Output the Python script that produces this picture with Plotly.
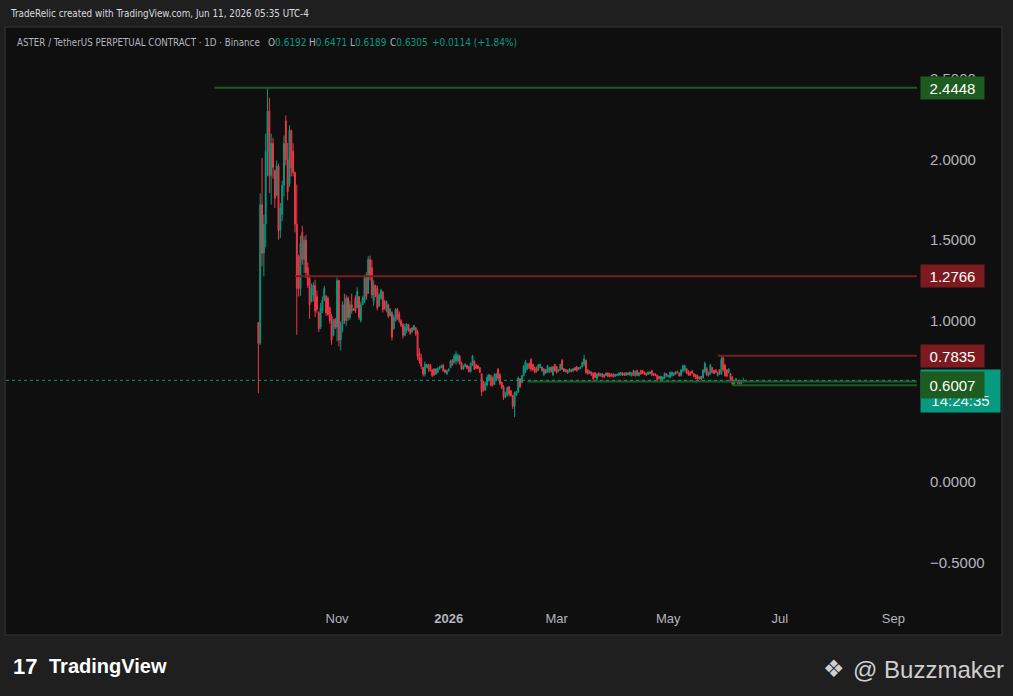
import pandas as pd
import plotly.graph_objects as go

# ---------------- data ----------------
start_date = "2025-09-19"
opens = [0.99,0.86,1.72,1.42,1.60,2.05,2.30,1.90,2.10,1.93,1.78,1.96,1.56,1.66,1.84,2.24,2.00,1.85,2.18,2.05,
 1.92,1.60,1.40,1.20,1.55,1.38,1.50,1.33,1.26,1.12,1.16,1.22,1.15,1.05,0.96,1.06,1.13,1.15,1.14,1.08,
 1.03,0.91,1.01,0.96,1.25,0.88,0.98,1.10,1.00,1.14,1.02,1.10,1.066,1.14,1.08,1.15,1.00,1.10,1.12,1.27,
 1.17,1.38,1.33,1.12,1.22,1.20,1.09,1.14,1.18,1.12,1.06,1.10,1.03,1.05,0.95,1.00,1.07,1.04,1.00,0.975,
 0.91,0.94,0.975,0.95,0.93,0.945,0.955,0.93,0.80,0.77,0.71,0.67,0.71,0.728,0.725,0.695,0.70,0.67,0.68,0.70,
 0.71,0.725,0.695,0.67,0.69,0.708,0.755,0.74,0.75,0.75,0.78,0.74,0.70,0.715,0.725,0.715,0.685,0.725,0.75,0.725,
 0.72,0.71,0.67,0.62,0.57,0.60,0.63,0.66,0.645,0.605,0.63,0.70,0.665,0.62,0.59,0.525,0.54,0.59,0.565,0.535,
 0.47,0.54,0.56,0.64,0.615,0.66,0.69,0.70,0.735,0.76,0.73,0.71,0.70,0.692,0.71,0.712,0.665,0.698,0.68,0.68,
 0.712,0.665,0.728,0.715,0.686,0.695,0.755,0.703,0.683,0.694,0.683,0.698,0.687,0.71,0.715,0.698,0.704,0.714,0.73,0.755,
 0.695,0.673,0.683,0.675,0.678,0.64,0.677,0.657,0.672,0.665,0.66,0.676,0.672,0.671,0.665,0.655,0.66,0.662,0.665,0.677,
 0.675,0.662,0.677,0.664,0.66,0.692,0.658,0.692,0.66,0.692,0.69,0.682,0.675,0.667,0.671,0.69,0.672,0.67,0.662,0.655,
 0.635,0.637,0.645,0.672,0.652,0.648,0.66,0.662,0.682,0.677,0.676,0.66,0.69,0.695,0.703,0.688,0.68,0.689,0.672,0.665,
 0.66,0.639,0.655,0.645,0.685,0.705,0.66,0.672,0.71,0.692,0.695,0.66,0.695,0.67,0.77,0.725,0.695,0.677,0.672,0.65,
 0.605,0.625,0.63,0.628,0.612,0.6192]
highs = [0.99,1.79,2.01,1.658,2.161,2.4448,2.383,2.161,2.135,1.938,1.994,1.975,1.731,1.870,2.149,2.273,2.103,2.211,2.186,2.10,
 1.925,1.845,1.41,1.528,1.590,1.524,1.534,1.362,1.286,1.230,1.238,1.255,1.188,1.058,1.11,1.151,1.217,1.161,1.151,1.089,
 1.043,1.012,1.017,1.269,1.255,0.996,1.12,1.168,1.161,1.151,1.124,1.168,1.079,1.157,1.207,1.151,1.118,1.155,1.286,1.30,
 1.40,1.404,1.379,1.25,1.224,1.217,1.172,1.199,1.182,1.13,1.126,1.106,1.079,1.058,1.037,1.079,1.079,1.058,1.01,0.986,
 0.981,0.986,0.981,0.954,0.961,0.975,0.961,0.944,0.83,0.795,0.716,0.747,0.733,0.733,0.733,0.70,0.706,0.706,0.712,0.72,
 0.727,0.733,0.70,0.696,0.706,0.758,0.762,0.795,0.81,0.799,0.789,0.747,0.727,0.737,0.727,0.72,0.741,0.789,0.754,0.733,
 0.727,0.712,0.675,0.629,0.623,0.665,0.671,0.665,0.654,0.675,0.675,0.706,0.675,0.623,0.602,0.561,0.592,0.596,0.571,0.54,
 0.561,0.565,0.654,0.644,0.665,0.727,0.758,0.737,0.741,0.768,0.733,0.716,0.716,0.733,0.733,0.716,0.706,0.70,0.727,0.712,
 0.716,0.72,0.733,0.72,0.70,0.733,0.764,0.706,0.70,0.696,0.706,0.70,0.706,0.712,0.72,0.712,0.716,0.747,0.789,0.758,
 0.70,0.691,0.685,0.679,0.683,0.675,0.679,0.675,0.675,0.669,0.679,0.679,0.677,0.675,0.675,0.671,0.671,0.679,0.683,0.679,
 0.679,0.681,0.679,0.685,0.679,0.696,0.691,0.696,0.681,0.696,0.696,0.685,0.679,0.685,0.685,0.696,0.675,0.675,0.665,0.658,
 0.658,0.654,0.679,0.675,0.665,0.685,0.685,0.679,0.685,0.689,0.679,0.70,0.727,0.727,0.706,0.691,0.685,0.691,0.675,0.669,
 0.665,0.654,0.658,0.70,0.747,0.712,0.685,0.733,0.712,0.696,0.70,0.685,0.70,0.7835,0.778,0.733,0.70,0.706,0.675,0.658,
 0.629,0.644,0.633,0.633,0.633,0.6471]
lows = [0.551,0.85,1.337,1.275,1.455,1.896,1.793,1.72,1.882,1.70,1.772,1.503,1.513,1.617,1.772,1.963,1.747,1.830,1.896,1.896,
 1.549,0.913,1.151,1.155,1.348,1.296,1.265,1.203,1.012,1.114,1.118,1.023,1.048,0.930,0.948,1.048,1.12,1.031,1.031,0.981,
 0.851,0.903,0.948,0.872,0.841,0.816,0.928,0.981,0.969,1.00,1.006,1.043,1.064,1.048,1.079,1.006,0.99,1.099,1.11,1.13,
 1.168,1.25,1.141,1.093,1.147,1.064,1.089,1.13,1.052,1.068,1.052,1.017,1.027,0.878,0.944,0.996,1.006,0.986,0.961,0.89,
 0.903,0.923,0.932,0.913,0.928,0.94,0.907,0.758,0.733,0.70,0.654,0.654,0.706,0.685,0.685,0.65,0.658,0.665,0.675,0.696,
 0.706,0.685,0.675,0.665,0.685,0.706,0.72,0.737,0.727,0.741,0.727,0.696,0.696,0.712,0.70,0.679,0.679,0.72,0.696,0.70,
 0.70,0.675,0.534,0.561,0.565,0.596,0.623,0.592,0.592,0.602,0.623,0.634,0.602,0.576,0.509,0.52,0.53,0.53,0.53,0.453,
 0.402,0.534,0.551,0.582,0.613,0.654,0.675,0.696,0.70,0.685,0.691,0.675,0.679,0.691,0.706,0.685,0.658,0.671,0.679,0.675,
 0.679,0.658,0.685,0.671,0.685,0.691,0.696,0.681,0.681,0.671,0.681,0.681,0.685,0.691,0.685,0.696,0.702,0.712,0.716,0.671,
 0.665,0.671,0.658,0.629,0.644,0.629,0.654,0.654,0.648,0.648,0.658,0.65,0.65,0.654,0.648,0.654,0.658,0.658,0.658,0.658,
 0.658,0.658,0.663,0.658,0.654,0.658,0.654,0.658,0.654,0.665,0.671,0.665,0.658,0.665,0.669,0.658,0.658,0.658,0.629,0.637,
 0.629,0.633,0.637,0.654,0.65,0.644,0.654,0.658,0.665,0.675,0.654,0.654,0.679,0.685,0.671,0.658,0.658,0.671,0.65,0.637,
 0.633,0.637,0.633,0.644,0.675,0.658,0.654,0.665,0.675,0.669,0.675,0.654,0.665,0.665,0.685,0.654,0.65,0.675,0.623,0.6007,
 0.601,0.623,0.609,0.602,0.609,0.6189]
closes = [0.86,1.72,1.42,1.60,2.05,2.30,1.90,2.10,1.95,1.76,1.96,1.56,1.70,1.84,2.10,2.00,1.80,2.18,1.95,1.92,
 1.60,1.20,1.20,1.48,1.38,1.50,1.30,1.22,1.10,1.20,1.22,1.06,1.07,0.95,1.08,1.13,1.20,1.05,1.04,1.00,
 0.88,1.00,0.96,1.25,0.88,0.98,1.10,1.00,1.14,1.02,1.10,1.06,1.075,1.06,1.18,1.02,1.10,1.14,1.27,1.15,
 1.38,1.27,1.16,1.22,1.16,1.08,1.16,1.19,1.07,1.08,1.12,1.03,1.07,0.90,1.02,1.07,1.02,1.00,0.97,0.91,
 0.96,0.98,0.94,0.92,0.955,0.97,0.92,0.78,0.75,0.72,0.67,0.73,0.728,0.70,0.69,0.66,0.665,0.70,0.705,0.715,
 0.722,0.69,0.68,0.69,0.70,0.75,0.725,0.78,0.79,0.785,0.735,0.70,0.72,0.73,0.705,0.685,0.735,0.78,0.70,0.705,
 0.705,0.68,0.56,0.57,0.61,0.65,0.665,0.60,0.60,0.665,0.67,0.645,0.61,0.585,0.525,0.55,0.585,0.545,0.535,0.47,
 0.55,0.56,0.645,0.59,0.66,0.72,0.745,0.73,0.71,0.70,0.695,0.68,0.685,0.728,0.73,0.69,0.70,0.675,0.72,0.708,
 0.685,0.715,0.69,0.68,0.698,0.73,0.70,0.685,0.697,0.675,0.702,0.684,0.703,0.694,0.69,0.71,0.714,0.74,0.765,0.68,
 0.67,0.688,0.662,0.64,0.65,0.67,0.658,0.672,0.652,0.651,0.676,0.655,0.654,0.657,0.652,0.668,0.669,0.676,0.68,0.662,
 0.661,0.678,0.665,0.682,0.676,0.662,0.686,0.662,0.678,0.67,0.675,0.668,0.662,0.682,0.683,0.665,0.661,0.66,0.635,0.64,
 0.655,0.651,0.675,0.657,0.662,0.68,0.682,0.676,0.668,0.687,0.658,0.695,0.72,0.72,0.676,0.664,0.662,0.675,0.655,0.642,
 0.638,0.651,0.637,0.695,0.735,0.665,0.68,0.725,0.68,0.672,0.679,0.68,0.67,0.76,0.695,0.66,0.656,0.70,0.628,0.61,
 0.625,0.64,0.613,0.61,0.6192,0.6305]

x_tick_vals = ["2025-11-01", "2026-01-01", "2026-03-01", "2026-05-01", "2026-07-01", "2026-09-01"]
x_tick_text = ["Nov", "<b>2026</b>", "Mar", "May", "Jul", "Sep"]
y_tick_vals = [-0.5, 0.0, 0.5, 1.0, 1.5, 2.0, 2.5]
y_tick_text = ["\u22120.5000", "0.0000", "0.5000", "1.0000", "1.5000", "2.0000", "2.5000"]

# horizontal levels: (price, start date, colour)
level_prices = [2.4448, 1.2766, 0.7835, 0.6234, 0.6007]
level_starts = ["2025-08-26", "2025-10-09", "2026-05-28", "2026-02-13", "2026-06-05"]
level_colors = ["#1f5a22", "#7a1c22", "#7a1c22", "#1f5a22", "#1f5a22"]
label_prices = [2.4448, 1.2766, 0.7835]
label_colors = ["#1e5b20", "#7d1a20", "#7d1a20"]
last_price = 0.6305
last_label_price = 0.6007
countdown = "14:24:35"

symbol_text = "ASTER / TetherUS PERPETUAL CONTRACT \u00b7 1D \u00b7 Binance"
ohlc_keys = ["O", "H", "L", "C"]
ohlc_vals = ["0.6192", "0.6471", "0.6189", "0.6305"]
change_text = "+0.0114 (+1.84%)"

dates = pd.date_range(start_date, periods=len(closes), freq="D")

# ---------------- layout helpers ----------------
W, H = 1013, 696
L, R, T, B = 6, 917, 28, 605
x_range = ["2025-05-04 02:00", "2026-09-13 22:00"]
y_range = [-0.763, 2.816]

def fx(px):
    return (px - L) / (R - L)

def fy(py):
    return (B - py) / (B - T)

GREEN = "#089981"
RED = "#f23645"
AX = "#b2b5be"
NARROW = "DejaVu Sans Condensed, DejaVu Sans, sans-serif"
SANS = "Liberation Sans, Arial, sans-serif"

fig = go.Figure()
fig.add_trace(go.Candlestick(
    x=dates, open=opens, high=highs, low=lows, close=closes,
    increasing=dict(line=dict(color=GREEN, width=1), fillcolor=GREEN),
    decreasing=dict(line=dict(color=RED, width=1), fillcolor=RED),
    whiskerwidth=0, hoverinfo="skip", showlegend=False,
))

shapes = []
# chart frame
shapes.append(dict(type="rect", xref="paper", yref="paper", layer="below",
                   x0=fx(5), x1=fx(1002), y0=fy(635), y1=fy(27),
                   fillcolor="#0f0f0f", line=dict(color="#2c2c2c", width=1.5)))
for p, s, c in zip(level_prices, level_starts, level_colors):
    shapes.append(dict(type="line", xref="x", yref="y", x0=s, x1=x_range[1], y0=p, y1=p,
                       line=dict(color=c, width=2), layer="above"))
shapes.append(dict(type="line", xref="x", yref="y", x0=x_range[0], x1=x_range[1],
                   y0=last_price, y1=last_price, line=dict(color=GREEN, width=1, dash="dot")))

ann = []
# header
ann.append(dict(xref="paper", yref="paper", x=fx(8), y=fy(14), xanchor="left", yanchor="middle",
                text="TradeRelic created with TradingView.com, Jun 11, 2026 05:35 UTC-4",
                showarrow=False, font=dict(family=NARROW, size=9.8, color="#d9dadf")))
# legend line (symbol + OHLC)
ann.append(dict(xref="paper", yref="paper", x=fx(15), y=fy(42), xanchor="left", yanchor="middle",
                text=symbol_text, showarrow=False, font=dict(family=NARROW, size=9.7, color=AX)))
for k, v, xp in zip(ohlc_keys, ohlc_vals, [266, 307, 348, 388]):
    ann.append(dict(xref="paper", yref="paper", x=fx(xp), y=fy(42), xanchor="left", yanchor="middle",
                    text=f"{k}<span style='color:{GREEN}'>{v}</span>", showarrow=False,
                    font=dict(family=NARROW, size=10, color=AX)))
ann.append(dict(xref="paper", yref="paper", x=fx(430), y=fy(42), xanchor="left", yanchor="middle",
                text=change_text, showarrow=False, font=dict(family=NARROW, size=10, color=GREEN)))
# countdown / last price box
ann.append(dict(xref="paper", yref="y", x=1, y=last_price, xanchor="left", yanchor="top",
                xshift=3, yshift=11, text=f"{last_price:.4f}<br>{countdown}", showarrow=False,
                bgcolor=GREEN, width=75, height=38, borderpad=2, align="center",
                font=dict(family=SANS, size=15, color="#e6f5f1")))
# level labels
for p, c in zip(label_prices, label_colors):
    ann.append(dict(xref="paper", yref="y", x=1, y=p, xanchor="left", yanchor="middle", xshift=3,
                    text=f"{p:.4f}", showarrow=False, bgcolor=c, width=59, height=18, borderpad=2,
                    font=dict(family=SANS, size=15, color="#ffffff")))
ann.append(dict(xref="paper", yref="y", x=1, y=last_label_price, xanchor="left", yanchor="middle", xshift=3,
                text=f"{last_label_price:.4f}", showarrow=False, bgcolor="#1e5b20", width=59, height=22,
                borderpad=2, font=dict(family=SANS, size=15, color="#ffffff")))
# footer
ann.append(dict(xref="paper", yref="paper", x=fx(11), y=fy(666), xanchor="left", yanchor="middle",
                text="<b>17</b>", showarrow=False, font=dict(family=SANS, size=22, color="#ffffff")))
ann.append(dict(xref="paper", yref="paper", x=fx(47), y=fy(666), xanchor="left", yanchor="middle",
                text="<b>TradingView</b>", showarrow=False, font=dict(family=SANS, size=20, color="#ffffff")))
ann.append(dict(xref="paper", yref="paper", x=fx(1006), y=fy(669), xanchor="right", yanchor="middle",
                text="@ Buzzmaker", showarrow=False, font=dict(family=SANS, size=24, color="#cfcfcf")))
ann.append(dict(xref="paper", yref="paper", x=fx(834), y=fy(669), xanchor="center", yanchor="middle",
                text="\u2756", showarrow=False, font=dict(family="DejaVu Sans", size=24, color="#cfcfcf")))

fig.update_layout(
    width=W, height=H,
    margin=dict(l=L, r=W - R, t=T, b=H - B, pad=0),
    paper_bgcolor="#1f1f1f", plot_bgcolor="#0f0f0f",
    shapes=shapes, annotations=ann, showlegend=False,
    xaxis=dict(type="date", range=x_range, rangeslider=dict(visible=False),
               tickvals=x_tick_vals, ticktext=x_tick_text, showgrid=False, zeroline=False,
               showline=False, ticks="", ticklabelstandoff=4,
               tickfont=dict(family=SANS, size=13, color=AX)),
    yaxis=dict(side="right", range=y_range, tickvals=y_tick_vals, ticktext=y_tick_text,
               showgrid=False, zeroline=False, showline=False, ticks="",
               ticklabelstandoff=12, tickfont=dict(family=SANS, size=15, color=AX)),
)

fig.write_html("out.html", config={"displayModeBar": False},
               post_script="document.body.style.margin='0';document.body.style.overflow='hidden';")
